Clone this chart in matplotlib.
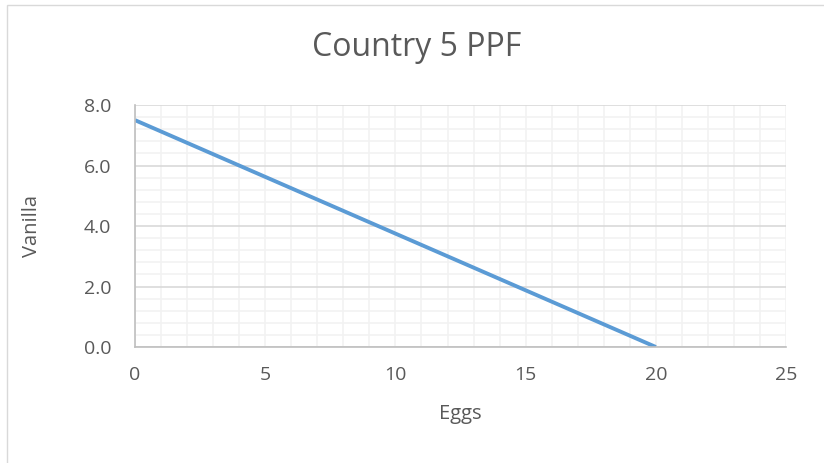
import matplotlib.pyplot as plt
from matplotlib.patches import Rectangle
from matplotlib.ticker import MultipleLocator

eggs = [0, 20]
vanilla = [7.5, 0]

TEXT = "#595959"

plt.rcParams["font.family"] = ["Open Sans", "DejaVu Sans"]

fig = plt.figure(figsize=(8.24, 4.63), dpi=100)
ax = fig.add_axes([0.1638, 0.2505, 0.7902, 0.5227])

# chart frame (cut off on the right and bottom)
fig.patches.append(Rectangle((7 / 824, -0.1), 1.2, 1 - 5 / 463 + 0.1,
                             transform=fig.transFigure, fill=False,
                             edgecolor="#d9d9d9", linewidth=1))

ax.plot(eggs, vanilla, color="#5b9bd5", linewidth=2.8, solid_capstyle="butt")

ax.set_xlim(0, 25)
ax.set_ylim(0, 8)
ax.xaxis.set_major_locator(MultipleLocator(5))
ax.xaxis.set_minor_locator(MultipleLocator(1))
ax.yaxis.set_major_locator(MultipleLocator(2))
ax.yaxis.set_minor_locator(MultipleLocator(0.4))
ax.set_yticklabels([f"{v:.1f}" for v in ax.get_yticks()])

ax.grid(which="both", axis="x", color="#f2f2f2", linewidth=1.2)
ax.grid(which="minor", axis="y", color="#f2f2f2", linewidth=1.2)
ax.grid(which="major", axis="y", color="#d9d9d9", linewidth=1.2)
ax.set_axisbelow(True)

for side in ["top", "right"]:
    ax.spines[side].set_visible(False)
for side in ["left", "bottom"]:
    ax.spines[side].set_color("#bfbfbf")
    ax.spines[side].set_linewidth(1.2)

ax.tick_params(which="both", length=0, labelsize=14, colors=TEXT)
ax.tick_params(axis="y", pad=17)
ax.tick_params(axis="x", pad=14)

ax.set_xlabel("Eggs", fontsize=14.5, color=TEXT, labelpad=14)
ax.set_ylabel("Vanilla", fontsize=14.5, color=TEXT, labelpad=30)

fig.text(417 / 824, 1 - 47 / 463, "Country 5 PPF", fontsize=23, color=TEXT,
         ha="center", va="center")

fig.savefig("out.png", dpi=100)
